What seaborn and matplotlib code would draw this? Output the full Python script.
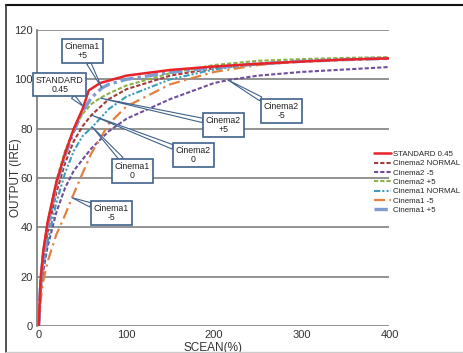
import matplotlib
matplotlib.use('Agg')
import matplotlib.pyplot as plt
from matplotlib.lines import Line2D
import seaborn as sns

# curves, scene % -> output IRE
standard_x = [0, 2, 5, 10, 20, 30, 40, 50, 57, 70, 100, 150, 200, 250, 300, 350, 400]
standard_y = [0, 18, 30, 42, 58, 70, 80, 88, 95.5, 98.5, 101.5, 103.8, 105.2, 106.3, 107.2, 108, 108.5]

c2_normal_x = [0, 2, 5, 10, 20, 30, 40, 50, 60, 80, 100, 150, 200, 250, 300, 350, 400]
c2_normal_y = [0, 16, 27, 38, 54, 66, 75, 81, 85.5, 92, 96, 101.5, 104.5, 106.3, 107.5, 108.2, 108.7]

c2_minus_x = [0, 2, 5, 10, 20, 30, 40, 60, 80, 100, 150, 200, 216, 250, 300, 350, 400]
c2_minus_y = [0, 13, 22, 32, 46, 56, 63, 72, 79, 84, 92, 98.5, 99.7, 101.5, 103, 104, 105]

c2_plus_x = [0, 2, 5, 10, 20, 30, 40, 50, 60, 70, 80, 100, 150, 200, 250, 300, 350, 400]
c2_plus_y = [0, 18, 30, 42, 59, 71, 80, 86, 90, 92.4, 94.3, 97.5, 102.5, 105.8, 107.5, 108.2, 108.7, 109]

c1_normal_x = [0, 2, 5, 10, 20, 30, 40, 50, 61, 80, 100, 150, 200, 250, 300, 350, 400]
c1_normal_y = [0, 14, 24, 34, 50, 62, 71, 77, 80.7, 88, 93, 100, 104, 106.2, 107.4, 108, 108.5]

c1_minus_x = [0, 2, 5, 10, 20, 30, 38, 50, 60, 80, 100, 150, 200, 250, 300, 350, 400]
c1_minus_y = [0, 10, 18, 26, 37, 45, 52, 62, 70, 82, 89, 98, 103, 105.8, 107.3, 108, 108.5]

c1_plus_x = [0, 2, 5, 10, 20, 30, 40, 50, 60, 72, 80, 100, 150, 200, 250, 300, 350, 400]
c1_plus_y = [0, 17, 28, 40, 57, 69, 79, 87, 92.5, 96.5, 98, 100, 102.8, 104.8, 106.3, 107.3, 108, 108.5]

labels = ['STANDARD 0.45', 'Cinema2 NORMAL', 'Cinema2 -5', 'Cinema2 +5',
          'Cinema1 NORMAL', 'Cinema1 -5', 'Cinema1 +5']

# callouts: text, box centre, point on the curve
callouts = [
    ('Cinema1\n+5', (49.7, 111.5), (72, 96.5)),
    ('STANDARD\n0.45', (24, 97.9), (51, 89)),
    ('Cinema2\n+5', (210.6, 81.5), (70, 92.4)),
    ('Cinema2\n0', (176.4, 69.3), (60, 85.5)),
    ('Cinema1\n0', (106.7, 62.8), (61, 80.7)),
    ('Cinema1\n-5', (82.8, 45.8), (38, 52)),
    ('Cinema2\n-5', (276.8, 87.2), (216, 99.7)),
]

sns.set_style('white')
plt.rcParams['font.family'] = ['Liberation Sans', 'DejaVu Sans']

fig = plt.figure(figsize=(4.64, 3.53), dpi=100)
ax = fig.add_axes([37 / 464, 27 / 353, 352.5 / 464, 296 / 353])

series = [
    (standard_x, standard_y, '#e8232a', 1.8, '-', 10),
    (c2_normal_x, c2_normal_y, '#a13c3a', 1.5, (0, (2, 1)), 4),
    (c2_minus_x, c2_minus_y, '#6f4e9b', 1.5, (0, (2, 1)), 4),
    (c2_plus_x, c2_plus_y, '#8db144', 1.5, (0, (2, 1)), 5),
    (c1_normal_x, c1_normal_y, '#3d9dbc', 1.5, (0, (3, 1, 1, 1, 1, 1)), 5),
    (c1_minus_x, c1_minus_y, '#e2813f', 1.6, (0, (5, 2, 1, 2)), 6),
    (c1_plus_x, c1_plus_y, '#7e9ccf', 2.4, (0, (4, 1.2, 1, 1.2)), 7),
]

for (xs, ys, col, lw, ls, z), lab in zip(series, labels):
    sns.lineplot(x=xs, y=ys, color=col, linewidth=lw, linestyle=ls,
                 label=lab, ax=ax, zorder=z, legend=False)

ax.set_xlim(-2, 400)
ax.set_ylim(0, 120)
ax.set_xticks([0, 100, 200, 300, 400])
ax.set_yticks([0, 20, 40, 60, 80, 100, 120])
ax.grid(axis='y', color='#8a8a8a', linewidth=1.3)
ax.grid(axis='x', visible=False)
for s in ['top', 'right', 'bottom']:
    ax.spines[s].set_visible(False)
ax.spines['left'].set_color('#777777')
ax.spines['left'].set_linewidth(1.2)
ax.tick_params(length=0, labelsize=8, colors='#333333', pad=3)
ax.set_xlabel('SCEAN(%)', fontsize=8.5, color='#333333', labelpad=1)
ax.set_ylabel('OUTPUT (IRE)', fontsize=8.5, color='#333333')
ax.yaxis.set_label_coords(-0.043, 0.5)

for txt, box, tip in callouts:
    ax.annotate(txt, xy=tip, xytext=box, ha='center', va='center',
                fontsize=6.3, color='#222222', zorder=20, linespacing=1.0,
                bbox=dict(boxstyle='square,pad=0.3', fc='white',
                          ec='#40628c', lw=1.2),
                arrowprops=dict(arrowstyle='wedge,tail_width=0.5', fc='white',
                                ec='#40628c', lw=0.8, shrinkA=0, shrinkB=0))

handles = [Line2D([], [], color=col, lw=lw, linestyle=ls)
           for (xs, ys, col, lw, ls, z) in series]
fig.legend(handles, labels, loc='upper left',
           bbox_to_anchor=(374 / 464, 1 - 150.5 / 353), frameon=False,
           fontsize=5.7, handlelength=2.2, handletextpad=0.2,
           labelspacing=0.23, borderpad=0, borderaxespad=0)

# outer frame of the picture
fig.add_artist(Line2D([6 / 464, 463 / 464], [1 - 5 / 353] * 2, color='#111111', lw=1.5))
fig.add_artist(Line2D([6.5 / 464] * 2, [1 - 5 / 353, 1 / 353], color='#333333', lw=1.2))
fig.add_artist(Line2D([6 / 464, 463 / 464], [1.2 / 353] * 2, color='#cccccc', lw=1))

fig.savefig('out.png', dpi=100)
